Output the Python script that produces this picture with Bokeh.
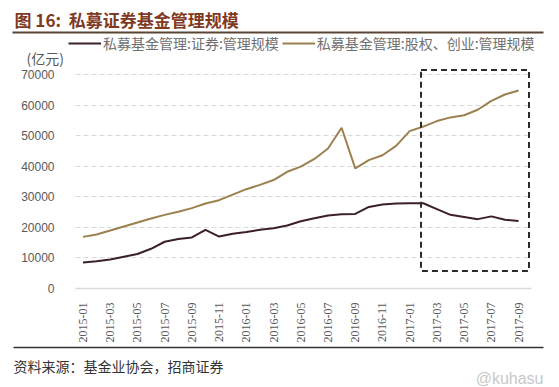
import math
from bokeh.plotting import figure
from bokeh.layouts import column
from bokeh.models import (Range1d, FixedTicker, Legend, LegendItem, Label,
                          BoxAnnotation)
from bokeh.embed import file_html
from bokeh.resources import INLINE

# ---------------- data ----------------
months = ["2015-01", "2015-02", "2015-03", "2015-04", "2015-05", "2015-06",
          "2015-07", "2015-08", "2015-09", "2015-10", "2015-11", "2015-12",
          "2016-01", "2016-02", "2016-03", "2016-04", "2016-05", "2016-06",
          "2016-07", "2016-08", "2016-09", "2016-10", "2016-11", "2016-12",
          "2017-01", "2017-02", "2017-03", "2017-04", "2017-05", "2017-06",
          "2017-07", "2017-08", "2017-09"]
securities = [8500, 8900, 9500, 10400, 11300, 13000, 15300, 16200, 16700,
              19200, 17000, 17900, 18500, 19200, 19700, 20600, 22000, 23000,
              23900, 24300, 24400, 26700, 27500, 27800, 27900, 27900, 26000,
              24100, 23400, 22700, 23600, 22500, 22100]
equity_vc = [16900, 17700, 19000, 20300, 21600, 22900, 24100, 25100, 26300,
             27800, 28900, 30700, 32500, 33900, 35500, 38200, 39900, 42400,
             45800, 52600, 39300, 42000, 43600, 46700, 51500, 53000, 54800,
             56000, 56700, 58500, 61400, 63500, 64800]
y_ticks = [0, 10000, 20000, 30000, 40000, 50000, 60000, 70000]
series_names = ["私募基金管理:证券:管理规模", "私募基金管理:股权、创业:管理规模"]
series_colors = ["#3b1f2c", "#9c804f"]
title_text = "图 16:\u00a0\u00a0私募证券基金管理规模"
unit_text = "(亿元)"
source_text = "资料来源：基金业协会，招商证券"
watermark_text = "@kuhasu"

# ---------------- layout constants (page pixels) ----------------
PW = 559
HDR_H = 68            # header strip: title, rule, legend, unit
MAIN_TOP, MAIN_BOT = 68, 345
FRAME_L, FRAME_R, FRAME_T, FRAME_B = 75, 531, 68, 293
FTR_H = 387 - MAIN_BOT
XR = (-0.55, 32.95)
YR = (0, 72000)


def X(page_x):
    return XR[0] + (page_x - FRAME_L) * (XR[1] - XR[0]) / (FRAME_R - FRAME_L)


def Y(page_y):
    return YR[0] + (FRAME_B - page_y) * (YR[1] - YR[0]) / (FRAME_B - FRAME_T)


def strip(height):
    f = figure(width=PW, height=height, output_backend="svg",
               toolbar_location=None, x_axis_type=None, y_axis_type=None,
               x_range=Range1d(0, PW), y_range=Range1d(height, 0),
               min_border=0, min_border_left=0, min_border_right=0,
               min_border_top=0, min_border_bottom=0, frame_align=False)
    f.outline_line_color = None
    f.xgrid.visible = False
    f.ygrid.visible = False
    f.background_fill_color = "white"
    f.border_fill_color = "white"
    return f


# ---------------- header ----------------
hdr = strip(HDR_H)
hdr.add_layout(Label(x=14, y=19, text=title_text, text_align="left",
                     text_baseline="middle", text_font="Noto Sans CJK SC",
                     text_font_size="17px", text_font_style="bold",
                     text_color="#7f3a1f"))
hdr.segment(x0=[12], y0=[32], x1=[543], y1=[32], line_color="#5a4434",
            line_width=2)
# legend proxies (kept outside the visible strip)
d1 = hdr.line(x=[-50, -40], y=[5, 5], line_color=series_colors[0], line_width=2)
d2 = hdr.line(x=[-50, -40], y=[5, 5], line_color=series_colors[1], line_width=2)
legend = Legend(items=[LegendItem(label=series_names[0], renderers=[d1]),
                       LegendItem(label=series_names[1], renderers=[d2])],
                orientation="horizontal", location=(68, 15),
                border_line_color=None, background_fill_alpha=0,
                padding=0, margin=0, spacing=3,
                glyph_width=33, glyph_height=20, label_standoff=2,
                label_text_font="Noto Sans CJK SC",
                label_text_font_size="14px", label_text_color="#707070")
hdr.add_layout(legend, "center")
hdr.add_layout(Label(x=26, y=57, text=unit_text, text_align="left",
                     text_baseline="middle", text_font="Noto Sans CJK SC",
                     text_font_size="14px", text_color="#595959"))

# ---------------- main chart ----------------
xs = list(range(len(months)))
p = figure(width=PW, height=MAIN_BOT - MAIN_TOP, output_backend="svg",
           toolbar_location=None, x_range=Range1d(*XR), y_range=Range1d(*YR),
           min_border_left=FRAME_L, min_border_right=PW - FRAME_R,
           min_border_top=FRAME_T - MAIN_TOP,
           min_border_bottom=MAIN_BOT - FRAME_B, frame_align=False)
p.outline_line_color = None
p.background_fill_color = "white"
p.border_fill_color = "white"

p.yaxis.ticker = FixedTicker(ticks=y_ticks)
p.yaxis.axis_line_color = None
p.yaxis.major_tick_line_color = None
p.yaxis.minor_tick_line_color = None
p.yaxis.major_label_standoff = 15
p.yaxis.major_label_text_font = "Liberation Sans"
p.yaxis.major_label_text_font_size = "12px"
p.yaxis.major_label_text_color = "#595959"

p.xaxis.ticker = FixedTicker(ticks=xs[::2])
p.xaxis.major_label_overrides = {i: months[i] for i in xs[::2]}
p.xaxis.major_label_orientation = math.pi / 2
p.xaxis.axis_line_color = "#d9d9d9"
p.xaxis.axis_line_width = 1.5
p.xaxis.major_tick_line_color = None
p.xaxis.minor_tick_line_color = None
p.xaxis.major_label_standoff = 8
p.xaxis.major_label_text_font = "Liberation Serif"
p.xaxis.major_label_text_font_size = "12px"
p.xaxis.major_label_text_color = "#595959"

p.xgrid.grid_line_color = None
p.ygrid.grid_line_color = "#d9d9d9"
p.ygrid.grid_line_dash = "5 3"
p.ygrid.grid_line_width = 1

p.line(xs, securities, line_color=series_colors[0], line_width=2)
p.line(xs, equity_vc, line_color=series_colors[1], line_width=2)

p.add_layout(BoxAnnotation(left=X(420.5), right=X(528.5),
                           bottom=Y(275), top=Y(69.5),
                           fill_alpha=0, line_color="#2b2b2b", line_alpha=1,
                           line_width=2, line_dash="6 4"))

# ---------------- footer ----------------
ftr = strip(FTR_H)
ftr.segment(x0=[13], y0=[2], x1=[543], y1=[2], line_color="#333333",
            line_width=1.5)
ftr.add_layout(Label(x=13, y=20, text=source_text, text_align="left",
                     text_baseline="middle", text_font="Noto Sans CJK SC",
                     text_font_size="14px", text_color="#333333"))
ftr.add_layout(Label(x=543, y=33, text=watermark_text, text_align="right",
                     text_baseline="middle", text_font="Liberation Sans",
                     text_font_size="16px", text_color="#c8c8c8"))

layout = column(hdr, p, ftr, spacing=0)
open("out.html", "w").write(file_html(layout, INLINE))
